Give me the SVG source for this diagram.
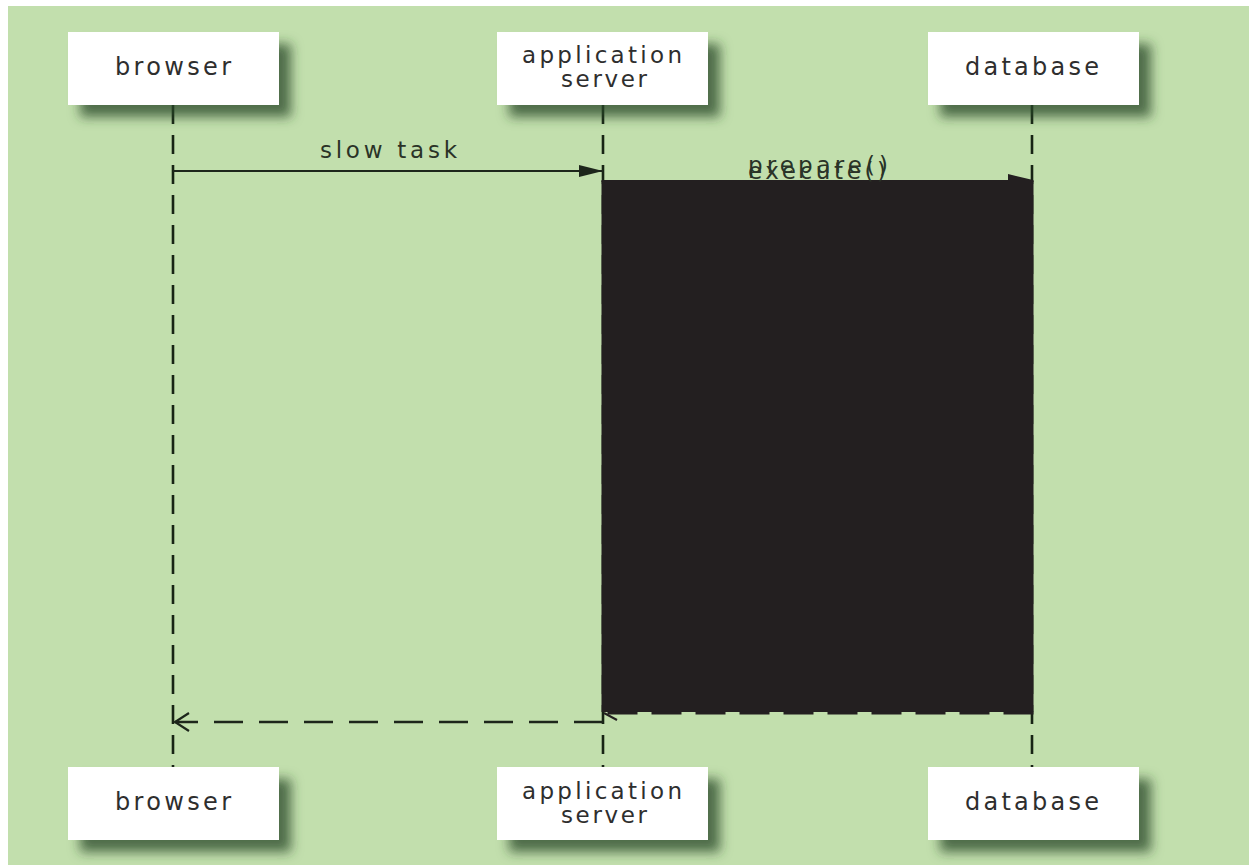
<svg xmlns="http://www.w3.org/2000/svg" width="1249" height="865" viewBox="0 0 1249 865">
  <style>
    .bg { fill: #c2dfad; }
    .box { fill: #ffffff; filter: url(#shadow); }
    .label { font-family: "DejaVu Sans", Roboto, sans-serif; font-size: 24px; fill: #2e2e2e; }
    .label2 { font-family: "DejaVu Sans", Roboto, sans-serif; font-size: 23px; fill: #2e2e2e; }
    .msg { font-family: "DejaVu Sans", Roboto, sans-serif; font-size: 23px; fill: #2a3327; }
    .lifeline { stroke: #172414; stroke-width: 2.6; stroke-dasharray: 19 11; fill: none; }
    .call { stroke: #1d261b; stroke-width: 2; fill: none; }
    .reply { stroke: #1d261b; stroke-width: 2.4; stroke-dasharray: 29 16; fill: none; }
  </style>
  <defs>
    <filter id="shadow" x="-20%" y="-30%" width="150%" height="190%">
      <feDropShadow dx="12" dy="12" stdDeviation="6" flood-color="#2c4628" flood-opacity="0.75"/>
    </filter>
    <marker id="solid" viewBox="0 0 24 12" refX="24" refY="6" markerWidth="24" markerHeight="12" markerUnits="userSpaceOnUse" orient="auto">
      <path d="M0,0 L24,6 L0,12 Z" fill="#1d261b"/>
    </marker>
  </defs>

  <!-- canvas -->
  <rect x="0" y="0" width="1249" height="865" fill="#ffffff"/>
  <rect class="bg" x="8" y="6" width="1241" height="859"/>

  <!-- lifelines -->
  <g id="lifelines">
    <line class="lifeline" x1="173" y1="105" x2="173" y2="767"/>
    <line class="lifeline" x1="603" y1="105" x2="603" y2="767"/>
    <line class="lifeline" x1="1032" y1="105" x2="1032" y2="767"/>
  </g>

  <!-- connectors -->
  <g id="connectors">
    <line class="call" x1="173" y1="171" x2="603" y2="171" marker-end="url(#solid)"/>
    <text class="msg" x="320" y="158" textLength="137" lengthAdjust="spacing">slow task</text>

    <!-- prepare() / execute() calls and the replies from the database -->
    <rect x="601.5" y="181" width="432" height="531" fill="#231f20"/>
    <path d="M1008,174 L1033,180 L1008,181 Z" fill="#231f20"/>
    <line x1="601.5" y1="181" x2="1033.5" y2="181" stroke="#231f20" stroke-width="2"/>
    <line x1="1033.5" y1="713" x2="601.5" y2="713" stroke="#231f20" stroke-width="3" stroke-dasharray="30 14"/>
    <path d="M617,720 L604,713" stroke="#231f20" stroke-width="2" fill="none"/>
    <text class="msg" x="748" y="173" font-size="25" textLength="140" lengthAdjust="spacing">prepare()</text>
    <text class="msg" x="748" y="179" font-size="25" textLength="138" lengthAdjust="spacing">execute()</text>

    <!-- result back to the browser -->
    <line class="reply" x1="603" y1="722" x2="175" y2="722"/>
    <path d="M189,713 L175,722 L189,731" stroke="#1d261b" stroke-width="2.2" fill="none"/>
  </g>

  <!-- top participants -->
  <g id="browser-top">
    <rect class="box" x="68" y="32" width="211" height="73"/>
    <text class="label" x="115" y="75" textLength="116" lengthAdjust="spacing">browser</text>
  </g>
  <g id="appserver-top">
    <rect class="box" x="497" y="32" width="211" height="73"/>
    <text class="label2" x="522" y="63" textLength="160" lengthAdjust="spacing">application</text>
    <text class="label2" x="561" y="87" textLength="86" lengthAdjust="spacing">server</text>
  </g>
  <g id="database-top">
    <rect class="box" x="928" y="32" width="211" height="73"/>
    <text class="label" x="965" y="75" textLength="134" lengthAdjust="spacing">database</text>
  </g>

  <!-- bottom participants -->
  <g id="browser-bottom">
    <rect class="box" x="68" y="767" width="211" height="73"/>
    <text class="label" x="115" y="810" textLength="116" lengthAdjust="spacing">browser</text>
  </g>
  <g id="appserver-bottom">
    <rect class="box" x="497" y="767" width="211" height="73"/>
    <text class="label2" x="522" y="799" textLength="160" lengthAdjust="spacing">application</text>
    <text class="label2" x="561" y="823" textLength="86" lengthAdjust="spacing">server</text>
  </g>
  <g id="database-bottom">
    <rect class="box" x="928" y="767" width="211" height="73"/>
    <text class="label" x="965" y="810" textLength="134" lengthAdjust="spacing">database</text>
  </g>
</svg>
